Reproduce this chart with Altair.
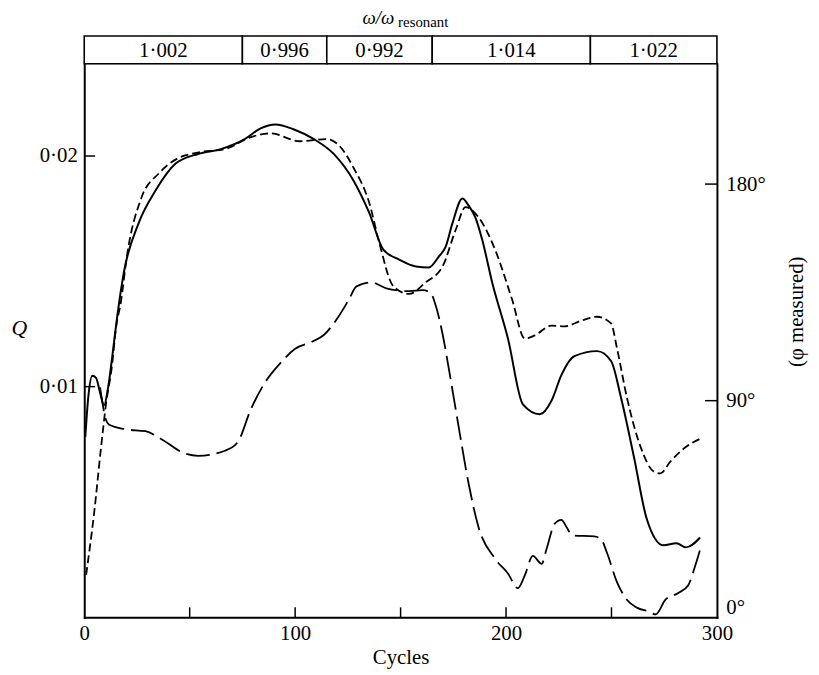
import altair as alt
import pandas as pd

# ---- data ----
cycles_solid = [0.5, 1.9, 3.8, 5.6, 7.5, 9.4, 11.3, 13.2, 15.5, 18.8, 25.8, 33.8, 43.2, 54.0, 64.8,
                76.1, 83.6, 90.6, 99.5, 108.9, 118.3, 127.7, 135.2, 141.8, 149.3, 157.3, 163.4,
                168.1, 171.4, 174.6, 179.3, 182.2, 185.4, 188.7, 193.4, 200.9, 208.0, 216.0,
                221.6, 226.3, 232.4, 243.2, 249.8, 254.5, 260.6, 266.7, 274.6, 280.8, 285.4, 292.0]
q_solid = [0.00782, 0.00953, 0.01047, 0.01038, 0.00974, 0.00919, 0.00996, 0.01124, 0.01295,
           0.01496, 0.01709, 0.01850, 0.01966, 0.02009, 0.02030, 0.02073, 0.02120, 0.02137,
           0.02115, 0.02073, 0.02009, 0.01893, 0.01752, 0.01594, 0.01551, 0.01521, 0.01517,
           0.01564, 0.01607, 0.01709, 0.01816, 0.01786, 0.01735, 0.01637, 0.01453, 0.01209,
           0.00923, 0.00880, 0.00940, 0.01051, 0.01132, 0.01154, 0.01111, 0.00953, 0.00697,
           0.00427, 0.00312, 0.00321, 0.00303, 0.00346]

cycles_dash = [0.9, 4.7, 8.0, 10.3, 13.2, 15.0, 17.4, 20.2, 27.2, 35.2, 44.6, 52.6, 68.1, 77.5,
               88.3, 102.3, 115.0, 121.1, 127.7, 135.2, 139.9, 146.5, 154.0, 162.0, 169.9, 176.1,
               180.8, 186.9, 194.8, 202.8, 208.9, 213.6, 221.6, 227.7, 235.7, 243.2, 249.8,
               252.6, 257.3, 263.8, 270.0, 273.2, 277.9, 285.4, 292.0]
q_dash = [0.00184, 0.00453, 0.00739, 0.00923, 0.01094, 0.01252, 0.01368, 0.01564, 0.01821,
          0.01923, 0.01991, 0.02013, 0.02034, 0.02077, 0.02098, 0.02064, 0.02073, 0.02043,
          0.01949, 0.01795, 0.01624, 0.01436, 0.01402, 0.01453, 0.01521, 0.01679, 0.01778,
          0.01735, 0.01594, 0.01380, 0.01209, 0.01222, 0.01265, 0.01261, 0.01286, 0.01303,
          0.01274, 0.01167, 0.00953, 0.00739, 0.00632, 0.00624, 0.00675, 0.00739, 0.00774]

cycles_phase = [7.5, 10.3, 11.7, 19.7, 29.1, 36.6, 47.9, 54.0, 66.7, 72.8, 78.9, 85.4, 93.0,
                100.0, 108.0, 113.6, 119.7, 125.4, 129.1, 136.2, 143.2, 154.0, 160.6, 164.3,
                166.7, 170.0, 172.8, 177.5, 182.2, 186.9, 194.8, 200.9, 205.6, 208.9, 212.7,
                216.9, 219.2, 223.0, 226.3, 228.6, 231.5, 241.8, 245.1, 247.9, 252.6, 257.3,
                262.0, 267.6, 270.9, 275.6, 281.7, 286.4, 289.7, 292.5]
phase_deg = [95.5, 82.1, 80.1, 78.1, 77.3, 74.0, 68.0, 67.1, 69.2, 72.8, 86.2, 97.1, 105.6,
             111.6, 114.5, 117.3, 123.8, 131.9, 137.5, 139.1, 136.7, 135.5, 135.9, 134.7,
             129.4, 117.3, 103.6, 79.3, 55.8, 37.6, 24.3, 18.2, 12.1, 17.4, 25.5, 22.2, 28.3,
             38.8, 40.5, 37.6, 34.0, 33.6, 32.4, 26.7, 14.6, 7.3, 4.0, 2.4, 1.2, 7.3, 10.1,
             13.3, 21.4, 29.5]

band_start = [0, 75, 115, 165, 240]
band_end = [75, 115, 165, 240, 300]
band_labels = ["1·002", "0·996", "0·992", "1·014", "1·022"]

x_label_values = [0, 100, 200, 300]
x_tick_values = [50, 100, 150, 200, 250]
q_tick_values = [0.01, 0.02]
phase_label_values = [0, 90, 180]
phase_tick_values = [90, 180]

# ---- layout ----
W, H = 639, 559
FONT = "Liberation Serif"
Q_DOMAIN = [0, 0.024]
PHASE_DOMAIN = [0, 230]

x_scale = alt.Scale(domain=[0, 300], nice=False, zero=False)
q_scale = alt.Scale(domain=Q_DOMAIN, nice=False, zero=False)
p_scale = alt.Scale(domain=PHASE_DOMAIN, nice=False, zero=False)

dom = dict(domain=True, domainColor="black", domainWidth=2, domainCap="square")

x_axis = alt.Axis(values=x_label_values, ticks=False, grid=False, **dom,
                  labelFont=FONT, labelFontSize=21, labelColor="black", labelPadding=5,
                  labelFlush=False, title="Cycles", titleFont=FONT, titleFontSize=21,
                  titleFontWeight="normal", titleColor="black", titlePadding=4)
q_axis = alt.Axis(values=q_tick_values, ticks=False, grid=False, **dom,
                  labelExpr="replace(format(datum.value, '.2f'), '.', '·')",
                  labelFont=FONT, labelFontSize=21, labelColor="black", labelPadding=7,
                  labelFlush=False, title="Q", titleFont=FONT, titleFontSize=22,
                  titleFontStyle="italic", titleFontWeight="normal", titleColor="black",
                  titleAngle=0, titleX=-66, titleY=266, titleAlign="center",
                  titleBaseline="middle")
p_axis = alt.Axis(orient="right", values=phase_label_values, ticks=False, grid=False, **dom,
                  labelExpr="datum.value + '°'", labelFont=FONT,
                  labelFontSize=21, labelColor="black", labelPadding=9, labelFlush=True,
                  title="(φ measured)", titleFont=FONT, titleFontSize=21,
                  titleFontWeight="normal", titleColor="black", titleAngle=270,
                  titleX=80, titleY=250, titleAlign="center", titleBaseline="middle")

df_solid = pd.DataFrame({"cycles": cycles_solid, "q": q_solid})
df_dash = pd.DataFrame({"cycles": cycles_dash, "q": q_dash})
df_phase = pd.DataFrame({"cycles": cycles_phase, "phase": phase_deg})
df_band = pd.DataFrame({"start": band_start, "end": band_end, "label": band_labels})
df_band["mid"] = (df_band["start"] + df_band["end"]) / 2
df_xt = pd.DataFrame({"cycles": x_tick_values})
df_qt = pd.DataFrame({"q": q_tick_values})
df_pt = pd.DataFrame({"phase": phase_tick_values})

X = lambda f: alt.X(f"{f}:Q", scale=x_scale, axis=x_axis)

solid = alt.Chart(df_solid).mark_line(interpolate="monotone", color="black",
                                       strokeWidth=2).encode(
    x=X("cycles"), y=alt.Y("q:Q", scale=q_scale, axis=q_axis), order="cycles:Q")
dashed = alt.Chart(df_dash).mark_line(interpolate="monotone", color="black",
                                       strokeWidth=1.8, strokeDash=[8, 4]).encode(
    x=X("cycles"), y=alt.Y("q:Q", scale=q_scale, axis=q_axis), order="cycles:Q")
q_ticks = alt.Chart(df_qt).mark_rule(color="black", strokeWidth=1.5).encode(
    x=alt.value(0), x2=alt.value(11), y=alt.Y("q:Q", scale=q_scale, axis=q_axis))

q_group = alt.layer(solid, dashed, q_ticks)

phase = alt.Chart(df_phase).mark_line(interpolate="monotone", color="black",
                                       strokeWidth=1.8, strokeDash=[24, 7]).encode(
    x=X("cycles"), y=alt.Y("phase:Q", scale=p_scale, axis=p_axis), order="cycles:Q")
p_ticks = alt.Chart(df_pt).mark_rule(color="black", strokeWidth=1.5).encode(
    x=alt.value(W - 12), x2=alt.value(W), y=alt.Y("phase:Q", scale=p_scale, axis=p_axis))
p_group = alt.layer(phase, p_ticks)

x_ticks = alt.Chart(df_xt).mark_rule(color="black", strokeWidth=1.5).encode(
    x=X("cycles"), y=alt.value(H - 10), y2=alt.value(H))

band_rect = alt.Chart(df_band).mark_rect(fill="white", stroke="black", strokeWidth=1.6).encode(
    x=X("start"), x2="end:Q", y=alt.value(-28), y2=alt.value(0))
band_text = alt.Chart(df_band).mark_text(font=FONT, fontSize=21, color="black",
                                          baseline="middle", align="center").encode(
    x=X("mid"), y=alt.value(-13), text="label:N")

title_main = alt.Chart(pd.DataFrame({"t": ["ω/ω"]})).mark_text(
    font=FONT, fontSize=19, fontStyle="italic", color="black", align="right",
    baseline="alphabetic").encode(x=alt.value(313), y=alt.value(-40), text="t:N")
title_sub = alt.Chart(pd.DataFrame({"t": ["resonant"]})).mark_text(
    font=FONT, fontSize=15, color="black", align="left",
    baseline="alphabetic").encode(x=alt.value(317), y=alt.value(-37), text="t:N")

other = alt.layer(x_ticks, band_rect, band_text, title_main, title_sub)

chart = alt.layer(q_group, p_group, other).resolve_scale(y="independent").properties(
    width=W, height=H,
    autosize=alt.AutoSizeParams(type="none"),
    padding={"left": 77, "top": 53, "right": 95, "bottom": 55},
).configure_view(stroke=None).configure(background="white")

chart.save("out.html", embed_options={"renderer": "svg", "actions": False})
